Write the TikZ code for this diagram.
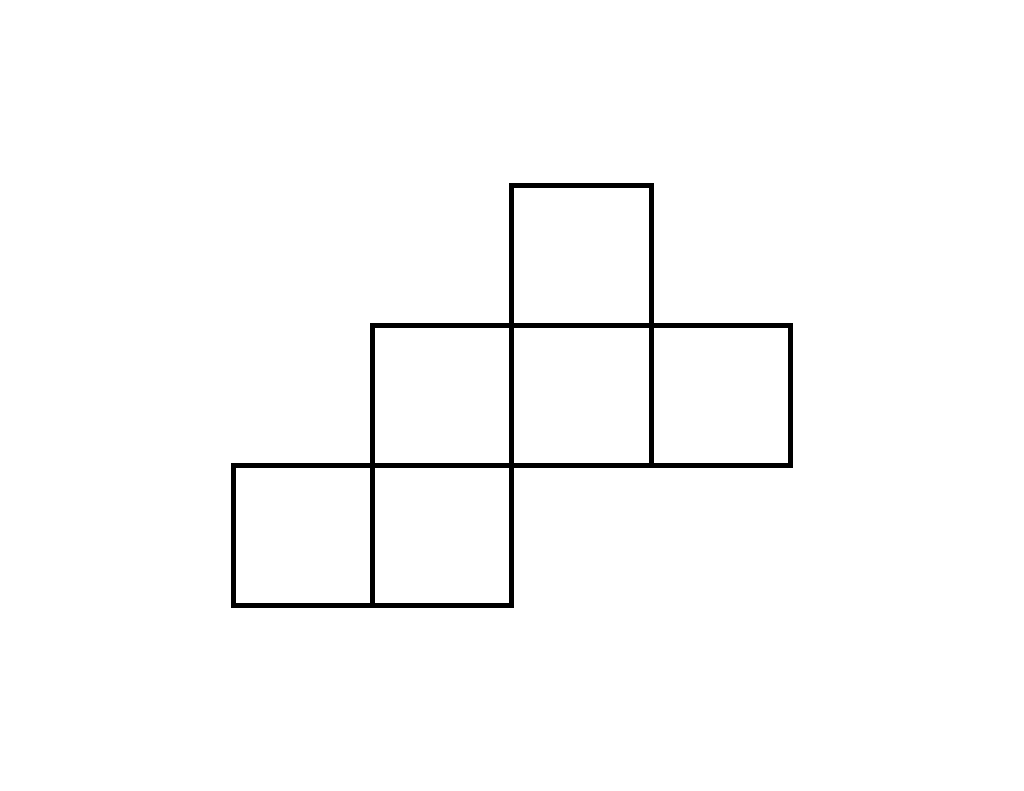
\documentclass[tikz,border=0pt]{standalone}
\begin{document}
\begin{tikzpicture}[x=1pt,y=-1pt,cell/.style={draw=black,line width=5pt}]
\useasboundingbox (0,0) rectangle (1024,791);
\draw[cell] (511.7,185.5) rectangle (651,325.4);
\draw[cell] (372.3,325.4) rectangle (511.7,465.3);
\draw[cell] (511.7,325.4) rectangle (651,465.3);
\draw[cell] (651,325.4) rectangle (790.3,465.3);
\draw[cell] (233,465.3) rectangle (372.3,605);
\draw[cell] (372.3,465.3) rectangle (511.7,605);
\end{tikzpicture}
\end{document}
